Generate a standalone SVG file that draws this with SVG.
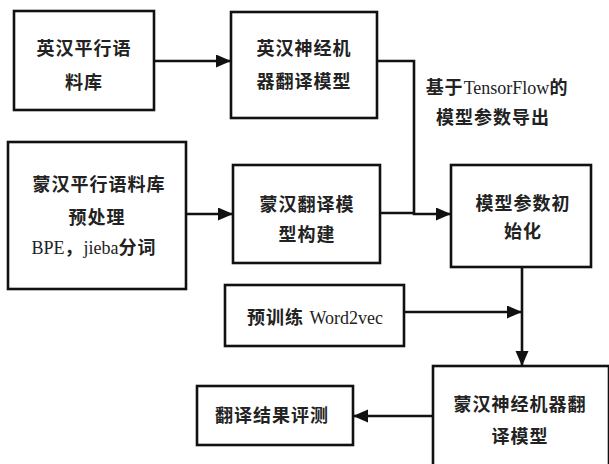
<svg xmlns="http://www.w3.org/2000/svg" width="609" height="464" viewBox="0 0 609 464">
<style>
.box{fill:#fff;stroke:#111;stroke-width:2.6}
.t{font-family:"Liberation Serif","Noto Sans CJK SC",serif;font-size:18px;font-weight:bold;fill:#222;text-anchor:middle;letter-spacing:1px}
.l{font-weight:normal;letter-spacing:0}
.c{fill:none;stroke:#111;stroke-width:2.6}
</style>
<defs>
<marker id="ah" markerUnits="userSpaceOnUse" markerWidth="16" markerHeight="14" refX="15" refY="6.5" orient="auto">
<path d="M0,0 L15,6.5 L0,13 z" fill="#111"/>
</marker>
</defs>
<rect width="609" height="464" fill="#fff"/>
<g id="connectors">
<line class="c" x1="154" y1="61" x2="231" y2="61" marker-end="url(#ah)"/>
<polyline class="c" points="377,61 414,61 414,214 451,214" marker-end="url(#ah)"/>
<line class="c" x1="186" y1="214" x2="233" y2="214" marker-end="url(#ah)"/>
<line class="c" x1="380" y1="213" x2="414" y2="213"/>
<line class="c" x1="522" y1="267" x2="522" y2="366" marker-end="url(#ah)"/>
<line class="c" x1="404" y1="312" x2="522" y2="312" marker-end="url(#ah)"/>
<line class="c" x1="433" y1="416" x2="353" y2="416" marker-end="url(#ah)"/>
<text class="t" x="497" y="94">基于<tspan class="l">TensorFlow</tspan>的</text>
<text class="t" x="493" y="124">模型参数导出</text>
</g>
<g id="n1">
<rect class="box" x="14" y="11" width="140" height="99"/>
<text class="t" x="84" y="55">英汉平行语</text>
<text class="t" x="84" y="89">料库</text>
</g>
<g id="n2">
<rect class="box" x="231" y="12" width="146" height="106"/>
<text class="t" x="304" y="55">英汉神经机</text>
<text class="t" x="304" y="88">器翻译模型</text>
</g>
<g id="n3">
<rect class="box" x="8" y="142" width="178" height="147"/>
<text class="t" x="99" y="191">蒙汉平行语料库</text>
<text class="t" x="97" y="224">预处理</text>
<text class="t" x="94" y="254"><tspan class="l">BPE</tspan>，<tspan class="l">jieba</tspan>分词</text>
</g>
<g id="n4">
<rect class="box" x="233" y="165" width="147" height="98"/>
<text class="t" x="307" y="211">蒙汉翻译模</text>
<text class="t" x="307" y="241">型构建</text>
</g>
<g id="n5">
<rect class="box" x="451" y="165" width="140" height="102"/>
<text class="t" x="523" y="210">模型参数初</text>
<text class="t" x="523" y="238">始化</text>
</g>
<g id="n6">
<rect class="box" x="225" y="285" width="179" height="61"/>
<text class="t" x="315" y="324">预训练 <tspan class="l">Word2vec</tspan></text>
</g>
<g id="n7">
<rect class="box" x="433" y="366" width="176" height="110"/>
<text class="t" x="520" y="411">蒙汉神经机器翻</text>
<text class="t" x="520" y="443">译模型</text>
</g>
<g id="n8">
<rect class="box" x="197" y="386" width="156" height="59"/>
<text class="t" x="272" y="422">翻译结果评测</text>
</g>
</svg>
